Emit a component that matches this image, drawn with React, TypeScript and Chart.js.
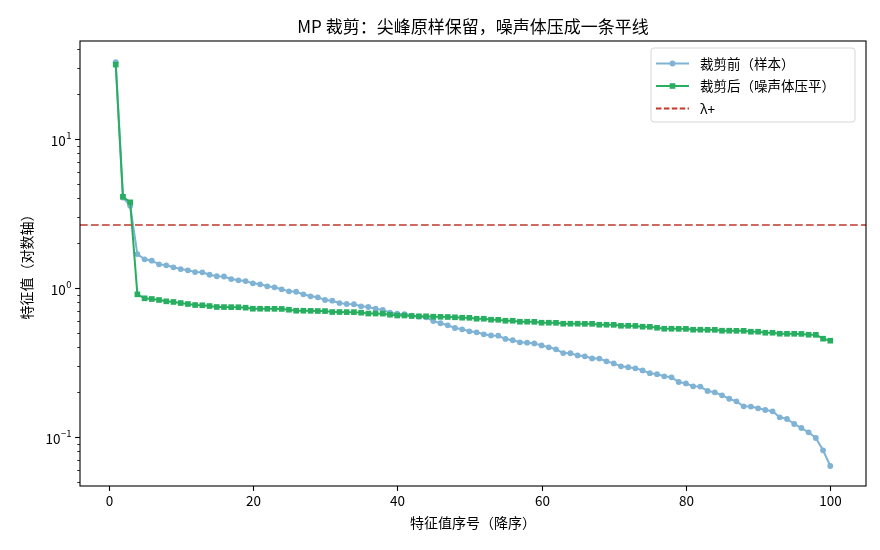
import React, { useEffect, useRef } from "react";
import { Chart, registerables } from "chart.js";

Chart.register(...registerables);

const TITLE = "MP 裁剪：尖峰原样保留，噪声体压成一条平线";
const X_LABEL = "特征值序号（降序）";
const Y_LABEL = "特征值（对数轴）";
const LEGEND_LABELS = ["裁剪前（样本）", "裁剪后（噪声体压平）", "λ+"];

const X_TICKS = [0, 20, 40, 60, 80, 100];
const Y_MAJOR_TICKS = [0.1, 1, 10];
const Y_MAJOR_EXP = ["−1", "0", "1"];
const Y_MINOR_TICKS = [
  0.05, 0.06, 0.07, 0.08, 0.09,
  0.2, 0.3, 0.4, 0.5, 0.6, 0.7, 0.8, 0.9,
  2, 3, 4, 5, 6, 7, 8, 9,
  20, 30, 40,
];

const RANKS = Array.from({ length: 100 }, (_, i) => i + 1);

const BEFORE = [
  32.8, 4.05, 3.57, 1.69, 1.558, 1.525, 1.442, 1.42, 1.377, 1.341,
  1.315, 1.28, 1.275, 1.228, 1.2, 1.195, 1.149, 1.126, 1.114, 1.075,
  1.059, 1.027, 1.011, 0.98, 0.95, 0.944, 0.907, 0.88, 0.866, 0.831,
  0.822, 0.793, 0.781, 0.778, 0.754, 0.746, 0.726, 0.712, 0.683, 0.672,
  0.669, 0.652, 0.642, 0.636, 0.6, 0.58, 0.562, 0.539, 0.528, 0.512,
  0.504, 0.489, 0.481, 0.479, 0.455, 0.446, 0.432, 0.43, 0.425, 0.412,
  0.4, 0.388, 0.366, 0.365, 0.353, 0.348, 0.337, 0.336, 0.322, 0.312,
  0.298, 0.294, 0.289, 0.28, 0.268, 0.264, 0.2555, 0.2516, 0.234, 0.229,
  0.219, 0.218, 0.2036, 0.1995, 0.1905, 0.1807, 0.1736, 0.1607, 0.16, 0.1558,
  0.1518, 0.1488, 0.1356, 0.1321, 0.1223, 0.1149, 0.1075, 0.0985, 0.0814, 0.0639,
];

const AFTER = [
  31.6, 4.1, 3.76, 0.907, 0.853, 0.844, 0.831, 0.814, 0.806, 0.793,
  0.781, 0.769, 0.766, 0.757, 0.746, 0.745, 0.744, 0.743, 0.738, 0.726,
  0.726, 0.725, 0.725, 0.724, 0.715, 0.704, 0.704, 0.703, 0.701, 0.7,
  0.69, 0.69, 0.689, 0.689, 0.683, 0.674, 0.674, 0.673, 0.662, 0.654,
  0.654, 0.649, 0.646, 0.646, 0.642, 0.641, 0.639, 0.636, 0.632, 0.631,
  0.622, 0.622, 0.613, 0.612, 0.603, 0.603, 0.594, 0.594, 0.593, 0.585,
  0.585, 0.584, 0.576, 0.576, 0.576, 0.575, 0.575, 0.567, 0.567, 0.566,
  0.558, 0.558, 0.557, 0.55, 0.549, 0.541, 0.533, 0.533, 0.532, 0.532,
  0.525, 0.525, 0.524, 0.524, 0.517, 0.517, 0.516, 0.516, 0.509, 0.509,
  0.501, 0.501, 0.4935, 0.493, 0.493, 0.492, 0.486, 0.485, 0.457, 0.443,
];

const LAMBDA_PLUS = 2.65;

const X_MIN = -3.95;
const X_MAX = 104.95;
const Y_MIN = 0.0469;
const Y_MAX = 45.5;

const BLUE = "#7fb3d5";
const GREEN = "#27ae60";
const RED = "#c0392b";
const FONT = '"Noto Sans CJK SC", "Noto Sans", sans-serif';

function drawMarker(ctx: CanvasRenderingContext2D, kind: string, x: number, y: number, color: string) {
  ctx.fillStyle = color;
  if (kind === "circle") {
    ctx.beginPath();
    ctx.arc(x, y, 2.9, 0, Math.PI * 2);
    ctx.fill();
  } else if (kind === "rect") {
    ctx.fillRect(x - 2.8, y - 2.8, 5.6, 5.6);
  }
}

const decorPlugin = {
  id: "decor",
  beforeDraw(chart: any) {
    const ctx = chart.ctx;
    ctx.save();
    ctx.fillStyle = "#ffffff";
    ctx.fillRect(0, 0, chart.width, chart.height);
    ctx.restore();
  },
  afterDraw(chart: any) {
    const ctx: CanvasRenderingContext2D = chart.ctx;
    const a = chart.chartArea;
    const xs = chart.scales.x;
    const ys = chart.scales.y;
    ctx.save();

    // frame
    ctx.strokeStyle = "#000";
    ctx.lineWidth = 1.1;
    ctx.strokeRect(a.left, a.top, a.right - a.left, a.bottom - a.top);

    // x ticks
    ctx.fillStyle = "#000";
    ctx.font = `13.5px ${FONT}`;
    ctx.textAlign = "center";
    ctx.textBaseline = "top";
    for (const t of X_TICKS) {
      const px = Math.round(xs.getPixelForValue(t)) + 0.5;
      ctx.beginPath();
      ctx.moveTo(px, a.bottom);
      ctx.lineTo(px, a.bottom + 4.9);
      ctx.lineWidth = 1.1;
      ctx.stroke();
      ctx.fillText(String(t), px, a.bottom + 8.5);
    }

    // y minor ticks
    for (const t of Y_MINOR_TICKS) {
      if (t < Y_MIN || t > Y_MAX) continue;
      const py = Math.round(ys.getPixelForValue(t)) + 0.5;
      ctx.beginPath();
      ctx.moveTo(a.left, py);
      ctx.lineTo(a.left - 2.8, py);
      ctx.lineWidth = 0.8;
      ctx.stroke();
    }

    // y major ticks + labels
    Y_MAJOR_TICKS.forEach((t, i) => {
      const py = Math.round(ys.getPixelForValue(t)) + 0.5;
      ctx.beginPath();
      ctx.moveTo(a.left, py);
      ctx.lineTo(a.left - 4.9, py);
      ctx.lineWidth = 1.1;
      ctx.stroke();
      const base = "10";
      const exp = Y_MAJOR_EXP[i];
      ctx.font = `13.5px ${FONT}`;
      const wb = ctx.measureText(base).width;
      ctx.font = `9.5px ${FONT}`;
      const we = ctx.measureText(exp).width;
      const right = a.left - 8.5;
      const left = right - wb - we - 0.5;
      ctx.textAlign = "left";
      ctx.textBaseline = "middle";
      ctx.font = `13.5px ${FONT}`;
      ctx.fillText(base, left, py + 1);
      ctx.font = `9.5px ${FONT}`;
      ctx.fillText(exp, left + wb + 0.5, py - 4);
    });

    // title
    ctx.font = `17px ${FONT}`;
    ctx.textAlign = "center";
    ctx.textBaseline = "middle";
    ctx.fillText(TITLE, (a.left + a.right) / 2, 27);

    // x label
    ctx.font = `14px ${FONT}`;
    ctx.fillText(X_LABEL, (a.left + a.right) / 2, 523);

    // y label
    ctx.save();
    ctx.translate(27, (a.top + a.bottom) / 2);
    ctx.rotate(-Math.PI / 2);
    ctx.fillText(Y_LABEL, 0, 0);
    ctx.restore();

    // legend
    const lx = 651, ly = 48, lw = 204, lh = 74;
    ctx.beginPath();
    const r = 3;
    ctx.moveTo(lx + r, ly);
    ctx.arcTo(lx + lw, ly, lx + lw, ly + lh, r);
    ctx.arcTo(lx + lw, ly + lh, lx, ly + lh, r);
    ctx.arcTo(lx, ly + lh, lx, ly, r);
    ctx.arcTo(lx, ly, lx + lw, ly, r);
    ctx.closePath();
    ctx.fillStyle = "rgba(255,255,255,0.8)";
    ctx.fill();
    ctx.strokeStyle = "#d6d6d6";
    ctx.lineWidth = 1;
    ctx.stroke();

    const rows = [
      { color: BLUE, marker: "circle", dash: [] as number[], y: 63.5 },
      { color: GREEN, marker: "rect", dash: [] as number[], y: 86 },
      { color: RED, marker: "", dash: [5.5, 2.4], y: 108.5 },
    ];
    rows.forEach((row, i) => {
      ctx.strokeStyle = row.color;
      ctx.lineWidth = 2;
      ctx.setLineDash(row.dash);
      ctx.beginPath();
      ctx.moveTo(656, row.y);
      ctx.lineTo(689, row.y);
      ctx.stroke();
      ctx.setLineDash([]);
      if (row.marker) drawMarker(ctx, row.marker, 672.5, row.y, row.color);
      ctx.fillStyle = "#000";
      ctx.font = `13.5px ${FONT}`;
      ctx.textAlign = "left";
      ctx.textBaseline = "middle";
      ctx.fillText(LEGEND_LABELS[i], 700, row.y);
    });

    ctx.restore();
  },
};

export default function App() {
  const ref = useRef<HTMLCanvasElement | null>(null);

  useEffect(() => {
    document.body.style.margin = "0";
    const canvas = ref.current;
    if (!canvas) return;
    const chart = new Chart(canvas, {
      type: "line",
      data: {
        datasets: [
          {
            label: LEGEND_LABELS[0],
            data: RANKS.map((r, i) => ({ x: r, y: BEFORE[i] })),
            borderColor: BLUE,
            backgroundColor: BLUE,
            borderWidth: 2,
            pointStyle: "circle",
            pointRadius: 2.9,
            pointBorderWidth: 0,
            order: 3,
            tension: 0,
          },
          {
            label: LEGEND_LABELS[1],
            data: RANKS.map((r, i) => ({ x: r, y: AFTER[i] })),
            borderColor: GREEN,
            backgroundColor: GREEN,
            borderWidth: 2,
            pointStyle: "rect",
            pointRadius: 4,
            pointBorderWidth: 0,
            order: 2,
            tension: 0,
          },
          {
            label: LEGEND_LABELS[2],
            data: [
              { x: X_MIN, y: LAMBDA_PLUS },
              { x: X_MAX, y: LAMBDA_PLUS },
            ],
            borderColor: RED,
            borderWidth: 1.6,
            borderDash: [7.7, 3.3],
            pointRadius: 0,
            order: 1,
          },
        ],
      },
      options: {
        responsive: false,
        animation: false,
        events: [],
        layout: { padding: { left: 80, top: 41, right: 14, bottom: 64 } },
        scales: {
          x: { type: "linear", min: X_MIN, max: X_MAX, display: false },
          y: { type: "logarithmic", min: Y_MIN, max: Y_MAX, display: false },
        },
        plugins: {
          legend: { display: false },
          title: { display: false },
          tooltip: { enabled: false },
        },
      },
      plugins: [decorPlugin],
    });
    return () => chart.destroy();
  }, []);

  return (
    <div style={{ width: 880, height: 550 }}>
      <canvas ref={ref} width={880} height={550} style={{ display: "block" }} />
    </div>
  );
}
